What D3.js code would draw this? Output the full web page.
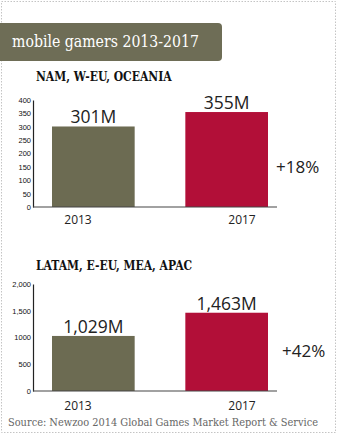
<!DOCTYPE html>
<html>
<head>
<meta charset="utf-8">
<script src="https://cdn.jsdelivr.net/npm/d3@7"></script>
<style>
  html, body { margin: 0; padding: 0; background: #fff; }
  svg { display: block; }
</style>
</head>
<body>
<svg id="chart" width="337" height="434"></svg>
<script>
// Mobile gamers by region, 2013 vs 2017 (millions)
const years = ["2013", "2017"];
const regionNames = ["NAM, W-EU, OCEANIA", "LATAM, E-EU, MEA, APAC"];
const westValues = [301, 355];
const restValues = [1029, 1463];
const westTicks = [0, 50, 100, 150, 200, 250, 300, 350, 400];
const restTicks = [0, 500, 1000, 1500, 2000];
const restTickLabels = ["0", "500", "1000", "1,500", "2,000"];
const growthLabels = ["+18%", "+42%"];
const valueLabels = [["301M", "355M"], ["1,029M", "1,463M"]];
const titleText = "mobile gamers 2013-2017";
const sourceText = "Source: Newzoo 2014 Global Games Market Report & Service";

const barColors = ["#6c6b52", "#b20f38"];
const svg = d3.select("#chart");

// dotted frame
svg.append("rect")
  .attr("x", 1.5).attr("y", 1.5).attr("width", 334).attr("height", 431)
  .attr("fill", "none").attr("stroke", "#c4c4c4")
  .attr("stroke-width", 1).attr("stroke-dasharray", "1.5,1.5");

// title banner
svg.append("path")
  .attr("d", "M0,23 H218 Q222,23 222,27 V57 Q222,61 218,61 H0 Z")
  .attr("fill", "#6e6d56");
svg.append("text")
  .attr("x", 12).attr("y", 47)
  .attr("font-family", "'DejaVu Serif Condensed', 'DejaVu Serif', serif")
  .attr("font-size", 17.5).attr("fill", "#fff")
  .attr("textLength", 187).attr("lengthAdjust", "spacingAndGlyphs")
  .text(titleText);

function panel(cfg) {
  const g = svg.append("g");
  const y = d3.scaleLinear().domain([0, cfg.max]).range([cfg.zeroY, cfg.zeroY - 107]);
  const x = d3.scaleBand().domain(years).range([52, 268]).paddingInner(0.38);
  const xl = d3.scalePoint().domain(years).range([78, 242]);

  g.append("text")
    .attr("x", 36).attr("y", cfg.headY)
    .attr("font-family", "'DejaVu Serif Condensed', 'DejaVu Serif', serif")
    .attr("font-weight", "bold").attr("font-size", 12).attr("fill", "#111")
    .text(cfg.name);

  // y axis
  const axis = d3.axisLeft(y).tickValues(cfg.ticks).tickSize(0).tickSizeOuter(0).tickPadding(2)
    .tickFormat((d, i) => cfg.tickLabels[i]);
  const ag = g.append("g").attr("transform", "translate(33,0)").call(axis);
  ag.select(".domain").attr("stroke", "#222").attr("stroke-width", 1.2);
  ag.selectAll("text")
    .attr("font-family", "'Liberation Sans', Arial, sans-serif")
    .attr("font-size", 7.5).attr("fill", "#111");

  // bars
  g.selectAll("rect.bar").data(cfg.values).join("rect")
    .attr("class", "bar")
    .attr("x", (d, i) => x(years[i]))
    .attr("width", x.bandwidth())
    .attr("y", d => y(d))
    .attr("height", d => y(0) - y(d))
    .attr("fill", (d, i) => barColors[i]);

  // baseline
  g.append("line")
    .attr("x1", 33).attr("x2", 277)
    .attr("y1", y(0)).attr("y2", y(0))
    .attr("stroke", "#444").attr("stroke-width", 1.2);

  // value labels
  g.selectAll("text.val").data(cfg.values).join("text")
    .attr("class", "val")
    .attr("x", (d, i) => x(years[i]) + x.bandwidth() / 2)
    .attr("y", d => y(d) - 3)
    .attr("text-anchor", "middle")
    .attr("font-family", "'Open Sans', sans-serif")
    .attr("font-size", 17.5).attr("fill", "#222")
    .text((d, i) => cfg.valueLabels[i]);

  // year labels
  g.selectAll("text.yr").data(years).join("text")
    .attr("class", "yr")
    .attr("x", d => xl(d)).attr("y", y(0) + cfg.yearDy)
    .attr("text-anchor", "middle")
    .attr("font-family", "'Open Sans', sans-serif")
    .attr("font-size", 12).attr("fill", "#222")
    .text(d => d);

  // growth
  g.append("text")
    .attr("x", cfg.growthX).attr("y", cfg.growthY)
    .attr("font-family", "'Open Sans', sans-serif")
    .attr("font-size", 17).attr("fill", "#222")
    .text(cfg.growth);
}

panel({
  name: regionNames[0], headY: 81, max: 400, zeroY: 207,
  ticks: westTicks, tickLabels: westTicks.map(String),
  values: westValues, valueLabels: valueLabels[0],
  yearDy: 17, growth: growthLabels[0], growthX: 276, growthY: 173
});
panel({
  name: regionNames[1], headY: 270, max: 2000, zeroY: 391,
  ticks: restTicks, tickLabels: restTickLabels,
  values: restValues, valueLabels: valueLabels[1],
  yearDy: 19, growth: growthLabels[1], growthX: 282, growthY: 357
});

svg.append("text")
  .attr("x", 8).attr("y", 426)
  .attr("font-family", "'DejaVu Serif Condensed', 'DejaVu Serif', serif")
  .attr("font-size", 11).attr("fill", "#666")
  .attr("textLength", 310).attr("lengthAdjust", "spacingAndGlyphs")
  .text(sourceText);
</script>
</body>
</html>
